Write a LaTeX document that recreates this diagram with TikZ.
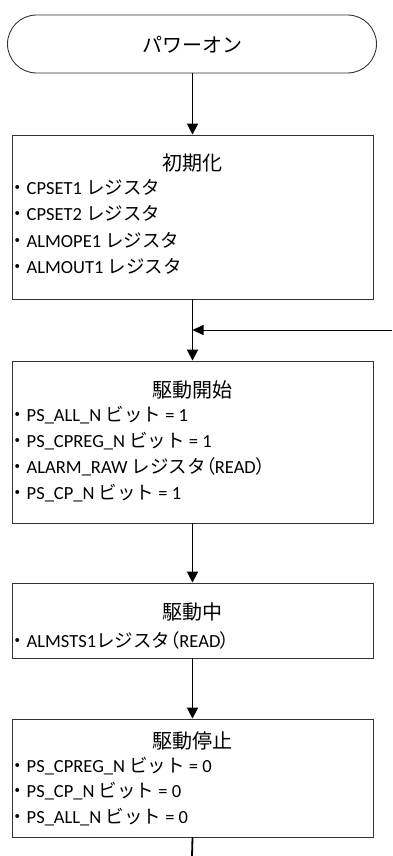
\documentclass[tikz,border=0pt]{standalone}
\usepackage{fontspec}
\setmainfont{Carlito}
\newfontfamily\jp{Noto Sans CJK JP}
\newfontfamily\jpp[RawFeature=+palt]{Noto Sans CJK JP}
\newcommand\bul{{\jp ・}}
\newcommand\lp{{\jpp （}}
\newcommand\rp{{\jpp ）}}
\usetikzlibrary{shapes.misc,arrows.meta}
\begin{document}
\begin{tikzpicture}[x=1pt,y=-1pt,
  box/.style={draw=black!80,line width=0.9pt,minimum width=361pt,inner sep=0pt},
  term/.style={draw=black!80,line width=0.9pt,rounded rectangle,minimum width=369pt,minimum height=58pt,inner sep=0pt},
  ttl/.style={inner sep=0pt,font=\fontsize{20}{22}\selectfont\jp},
  itm/.style={inner sep=0pt,anchor=west,font=\fontsize{18.5}{20}\selectfont},
  flow/.style={line width=1.8pt,-{Triangle[length=11pt,width=11pt]}},
  fb/.style={line width=1pt,-{Triangle[length=11pt,width=10pt]}}]
\useasboundingbox (0,0) rectangle (392,856);
\node[term] (pw) at (192,44) {};
\node[ttl] (pwt) at (192,45) {パワーオン};
% box 1
\node[box,minimum height=164pt] (b1) at (192.5,217) {};
\node[ttl] (b1t) at (192,163) {初期化};
\node[itm] (b1a) at (8,187) {\bul CPSET1 {\jp レジスタ}};
\node[itm] (b1b) at (8,213) {\bul CPSET2 {\jp レジスタ}};
\node[itm] (b1c) at (8,240) {\bul ALMOPE1 {\jp レジスタ}};
\node[itm] (b1d) at (8,266) {\bul ALMOUT1 {\jp レジスタ}};
% box 2
\node[box,minimum height=162pt] (b2) at (192.5,442) {};
\node[ttl] (b2t) at (192,390) {駆動開始};
\node[itm] (b2a) at (8,415) {\bul PS\_ALL\_N {\jp ビット} = 1};
\node[itm] (b2b) at (8,441) {\bul PS\_CPREG\_N {\jp ビット} = 1};
\node[itm] (b2c) at (8,467) {\bul ALARM\_RAW {\jp レジスタ}\lp READ\rp};
\node[itm] (b2d) at (8,493) {\bul PS\_CP\_N {\jp ビット} = 1};
% box 3
\node[box,minimum height=75pt] (b3) at (192.5,620.5) {};
\node[ttl] (b3t) at (192,612) {駆動中};
\node[itm] (b3a) at (8,640) {\bul ALMSTS1{\jp レジスタ}\lp READ\rp};
% box 4
\node[box,minimum height=118pt] (b4) at (192.5,778) {};
\node[ttl] (b4t) at (192,741) {駆動停止};
\node[itm] (b4a) at (8,766) {\bul PS\_CPREG\_N {\jp ビット} = 0};
\node[itm] (b4b) at (8,791) {\bul PS\_CP\_N {\jp ビット} = 0};
\node[itm] (b4c) at (8,817) {\bul PS\_ALL\_N {\jp ビット} = 0};
% connectors
\coordinate (loop) at (392,330);
\coordinate (tail) at (192,856);
\draw[flow] (pw.south -| b1.north) -- (b1.north);
\draw[flow] (b1.south) -- (b2.north);
\draw[fb] (loop) -- (b1.south |- loop);
\draw[flow] (b2.south) -- (b3.north);
\draw[flow] (b3.south) -- (b4.north);
\draw[line width=1.8pt] (b4.south) -- (tail);
\end{tikzpicture}
\end{document}
